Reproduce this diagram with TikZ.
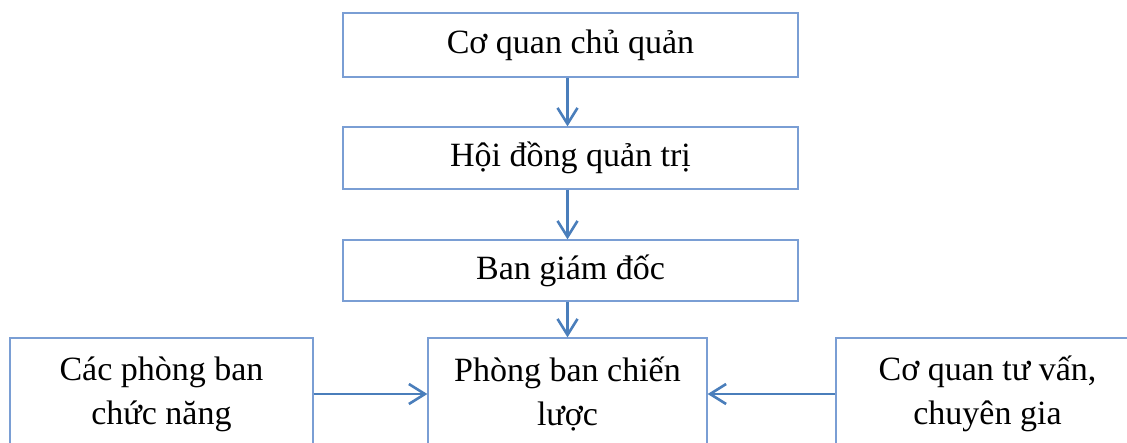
\documentclass[tikz,border=0pt]{standalone}
\usepackage{fontspec}
\setmainfont{Liberation Serif}
\usetikzlibrary{arrows.meta}
\definecolor{boxline}{RGB}{122,158,212}
\definecolor{arrowblue}{RGB}{74,126,187}
\begin{document}
\begin{tikzpicture}[x=1pt,y=-1pt,
  box/.style={draw=boxline,line width=1.3pt,fill=white,rectangle,inner sep=0pt,
    align=center,font=\fontsize{34}{44}\selectfont},
  link/.style={draw=arrowblue,line width=2.6pt,
    -{Straight Barb[length=16pt,width=20pt,line width=2.6pt]}}]
\useasboundingbox (0,0) rectangle (1127,442);
\clip (0,0) rectangle (1127,442);
\fill[white] (0,0) rectangle (1127,442);
% management chain
\node[box,minimum width=455pt,minimum height=64pt] (owner) at (570.5,45) {Cơ quan chủ quản};
\node[box,minimum width=455pt,minimum height=62pt] (board) at (570.5,158) {Hội đồng quản trị};
\node[box,minimum width=455pt,minimum height=61pt] (direct) at (570.5,270.5) {Ban giám đốc};
% bottom row
\node[box,minimum width=279pt,minimum height=112pt] (strat) at (567.5,394) {Phòng ban chiến\\lược};
\node[box,minimum width=303pt,minimum height=112pt] (func) at (161.5,394) {Các phòng ban\\chức năng};
\node[box,minimum width=303pt,minimum height=112pt] (advis) at (987.5,394) {Cơ quan tư vấn,\\chuyên gia};
% connectors
\draw[link] (owner.south -| strat.north) -- (board.north -| strat.north);
\draw[link] (board.south -| strat.north) -- (direct.north -| strat.north);
\draw[link] (direct.south -| strat.north) -- (strat.north);
\draw[link] (func.east) -- (strat.west);
\draw[link] (advis.west) -- (strat.east);
\end{tikzpicture}
\end{document}
